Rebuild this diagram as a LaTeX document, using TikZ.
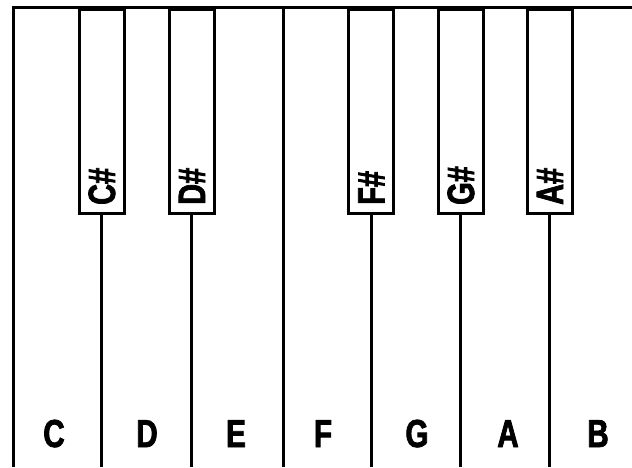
\documentclass[tikz,border=0pt]{standalone}
\usepackage{fontspec}
\newfontfamily\keyfont[FakeStretch=0.76,BoldFeatures={FakeBold=2}]{Liberation Sans}
\begin{document}
\begin{tikzpicture}[x=1pt,y=1pt,
  keyline/.style={line width=3pt},
  bkey/.style={draw,fill=white,line width=3pt,rectangle,inner sep=0pt,
    minimum width=45pt,minimum height=204pt,anchor=north},
  wlabel/.style={font=\keyfont\bfseries\fontsize{39}{39}\selectfont,anchor=base,inner sep=0pt},
  blabel/.style={font=\keyfont\bfseries\fontsize{38}{38}\selectfont,rotate=90,anchor=base west,inner sep=0pt}]
\useasboundingbox (0,0) rectangle (632,467);
% outline
\coordinate (bl) at (13,0);
\coordinate (tl) at (13,459);
\coordinate (tr) at (632,459);
\draw[keyline,line join=miter] (bl) -- (tl) -- (tr);
% E/F divider
\coordinate (eft) at (283,459);
\coordinate (efb) at (283,0);
\draw[keyline] (efb) -- (eft);
% black keys
\foreach \n/\x in {cs/101.5,ds/191.5,fs/371,gs/460.5,as/549.5}{
  \coordinate (\n b) at (\x,0);
  \draw[keyline] (\n b) -- (\x,300);
}
\node[bkey] (cs) at (101.5,459) {};
\node[bkey] (ds) at (191.5,459) {};
\node[bkey] (fs) at (371,459) {};
\node[bkey] (gs) at (460.5,459) {};
\node[bkey] (as) at (549.5,459) {};
% black labels
\node[blabel] (lcs) at (115,262) {C\#};
\node[blabel] (lds) at (205,262) {D\#};
\node[blabel] (lfs) at (384.5,262) {F\#};
\node[blabel] (lgs) at (474,262) {G\#};
\node[blabel] (las) at (563,262) {A\#};
% white labels
\node[wlabel] (lc) at (54,20) {C};
\node[wlabel] (ld) at (147,20) {D};
\node[wlabel] (le) at (236,20) {E};
\node[wlabel] (lf) at (323,20) {F};
\node[wlabel] (lg) at (417,20) {G};
\node[wlabel] (la) at (508,20) {A};
\node[wlabel] (lb) at (598,20) {B};
\end{tikzpicture}
\end{document}
